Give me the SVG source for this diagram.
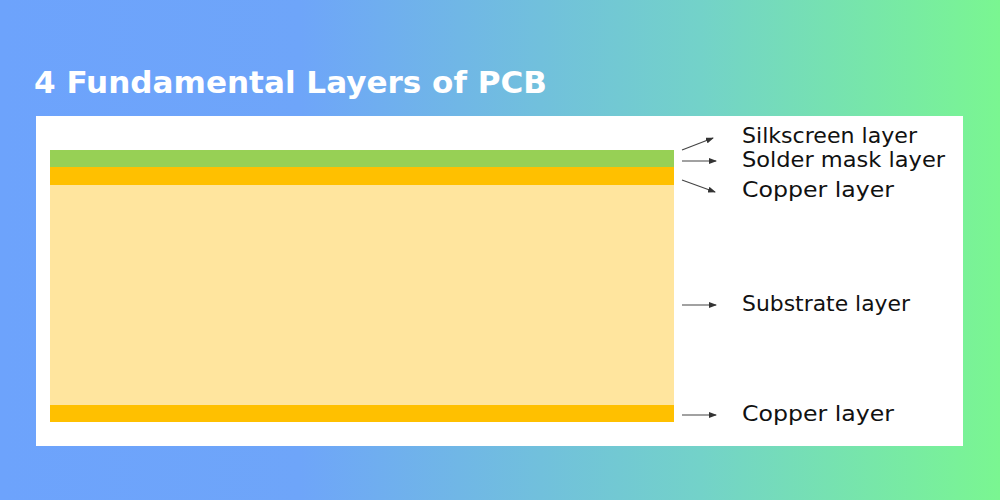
<svg xmlns="http://www.w3.org/2000/svg" width="1000" height="500" viewBox="0 0 1000 500">
<defs>
<linearGradient id="bg" x1="0" y1="0" x2="1" y2="0">
<stop offset="0" stop-color="#6DA3FC"/>
<stop offset="0.3" stop-color="#6EA5F9"/>
<stop offset="0.7" stop-color="#73D2C9"/>
<stop offset="1" stop-color="#7AF691"/>
</linearGradient>
<marker id="ah" markerWidth="8" markerHeight="6" refX="7" refY="3" orient="auto" markerUnits="userSpaceOnUse">
<path d="M0,0 L8,3 L0,6 Z" fill="#333"/>
</marker>
<style>
.lbl{font-family:"DejaVu Sans","Liberation Sans",sans-serif;font-size:21px;fill:#111}
.ar{stroke:#444;stroke-width:1.2;fill:none;marker-end:url(#ah)}
</style>
</defs>
<rect width="1000" height="500" fill="url(#bg)"/>
<text x="34" y="93" font-family="'DejaVu Sans', 'Liberation Sans', sans-serif" font-weight="bold" font-size="30" fill="#fff" textLength="513" lengthAdjust="spacingAndGlyphs">4 Fundamental Layers of PCB</text>
<rect x="36" y="116" width="927" height="330" fill="#fff"/>
<g id="silkscreen"><rect x="50" y="150" width="624" height="17" fill="#97D055"/></g>
<g id="soldermask"><rect x="50" y="167" width="624" height="18" fill="#FFC000"/></g>
<g id="substrate"><rect x="50" y="185" width="624" height="220" fill="#FFE59E"/></g>
<g id="copper-bottom"><rect x="50" y="405" width="624" height="17" fill="#FFC000"/></g>
<g id="connectors">
<line class="ar" x1="682" y1="150" x2="713" y2="138"/>
<line class="ar" x1="682" y1="161" x2="716" y2="161"/>
<line class="ar" x1="682" y1="180" x2="715" y2="192"/>
<line class="ar" x1="682" y1="305" x2="716" y2="305"/>
<line class="ar" x1="682" y1="415" x2="716" y2="415"/>
</g>
<g id="labels">
<text class="lbl" x="742" y="143" textLength="175" lengthAdjust="spacingAndGlyphs">Silkscreen layer</text>
<text class="lbl" x="742" y="167" textLength="203" lengthAdjust="spacingAndGlyphs">Solder mask layer</text>
<text class="lbl" x="742" y="197" textLength="152" lengthAdjust="spacingAndGlyphs">Copper layer</text>
<text class="lbl" x="742" y="311" textLength="168" lengthAdjust="spacingAndGlyphs">Substrate layer</text>
<text class="lbl" x="742" y="421" textLength="152" lengthAdjust="spacingAndGlyphs">Copper layer</text>
</g>
</svg>
